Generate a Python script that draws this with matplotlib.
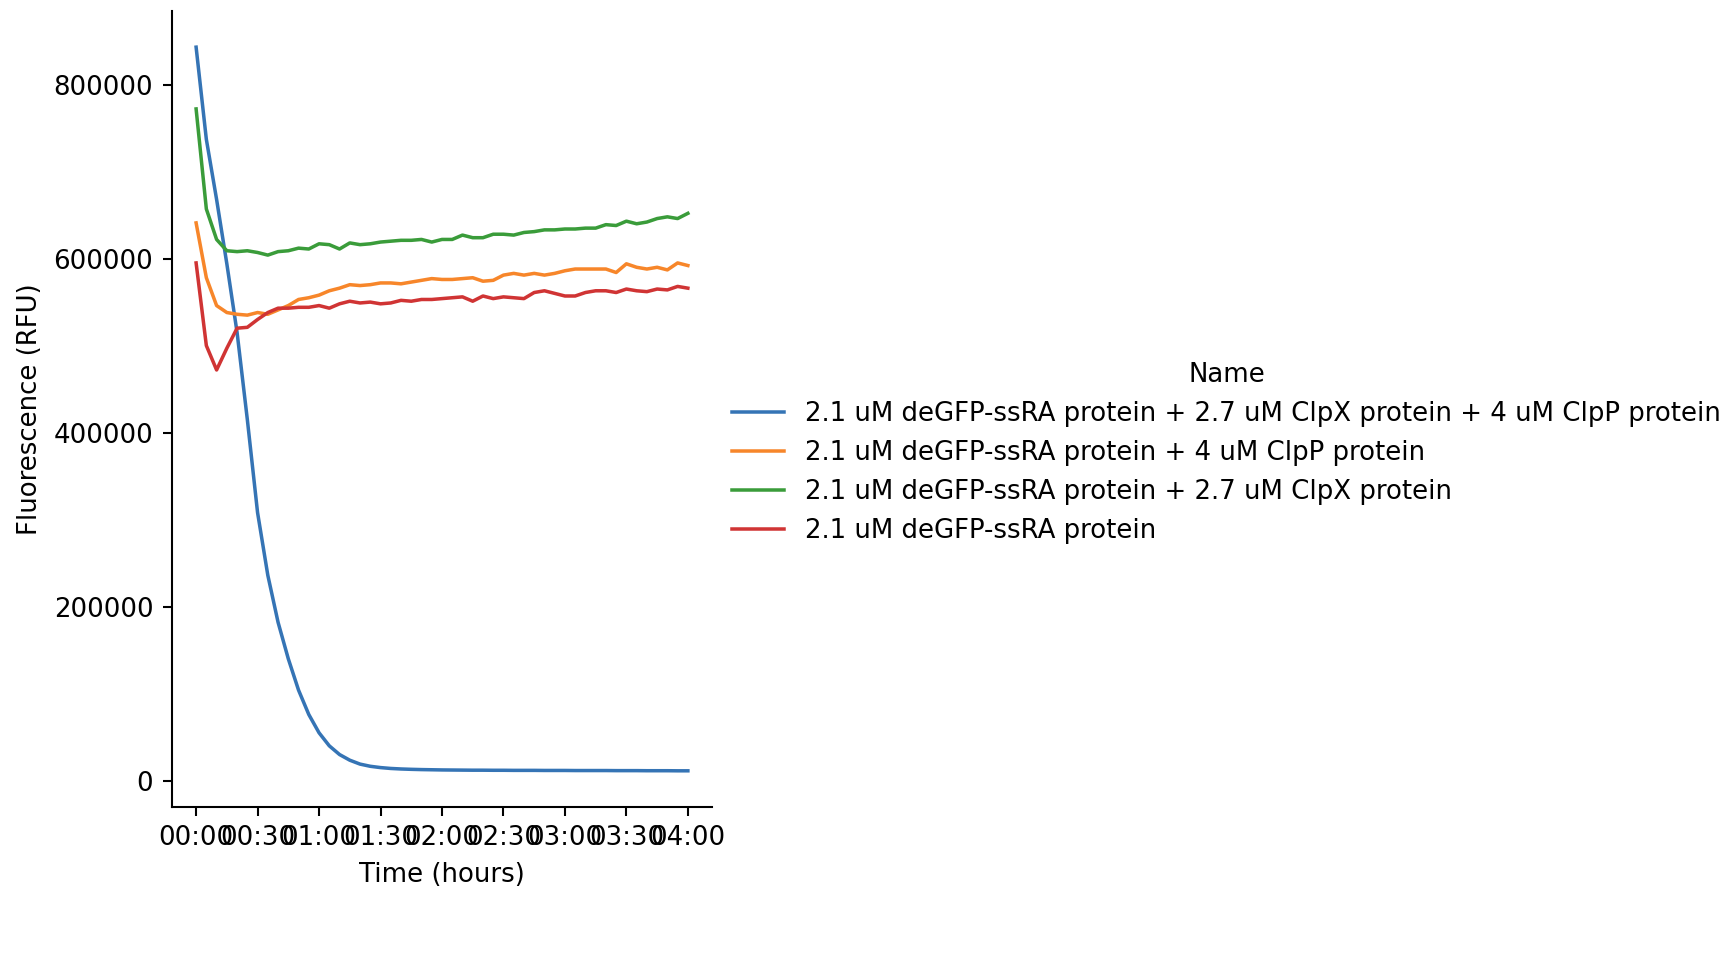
import matplotlib.pyplot as plt

# sampling times (minutes from start)
minutes = [0, 5, 10, 15, 20, 25, 30, 35, 40, 45,
           50, 55, 60, 65, 70, 75, 80, 85, 90, 95,
           100, 105, 110, 115, 120, 125, 130, 135, 140, 145,
           150, 155, 160, 165, 170, 175, 180, 185, 190, 195,
           200, 205, 210, 215, 220, 225, 230, 235, 240]

names = [
    "2.1 uM deGFP-ssRA protein + 2.7 uM ClpX protein + 4 uM ClpP protein",
    "2.1 uM deGFP-ssRA protein + 4 uM ClpP protein",
    "2.1 uM deGFP-ssRA protein + 2.7 uM ClpX protein",
    "2.1 uM deGFP-ssRA protein",
]

xclp_clpp = [843000, 737000, 668000, 594000, 515000, 415000, 308000, 236000, 182000, 140000,
             104000, 76000, 55000, 40000, 30000, 23500, 19000, 16500, 15000, 14000,
             13400, 13000, 12700, 12500, 12300, 12200, 12100, 12000, 12000, 11900,
             11900, 11800, 11800, 11800, 11700, 11700, 11700, 11600, 11600, 11600,
             11600, 11500, 11500, 11500, 11400, 11400, 11400, 11300, 11300]

clpp_only = [641000, 578000, 546000, 538000, 536000, 535000, 538000, 536000, 541000, 546000,
             553000, 555000, 558000, 563000, 566000, 570000, 569000, 570000, 572000, 572000,
             571000, 573000, 575000, 577000, 576000, 576000, 577000, 578000, 574000, 575000,
             581000, 583000, 581000, 583000, 581000, 583000, 586000, 588000, 588000, 588000,
             588000, 584000, 594000, 590000, 588000, 590000, 587000, 595000, 592000]

clpx_only = [772000, 657000, 622000, 609000, 608000, 609000, 607000, 604000, 608000, 609000,
             612000, 611000, 617000, 616000, 611000, 618000, 616000, 617000, 619000, 620000,
             621000, 621000, 622000, 619000, 622000, 622000, 627000, 624000, 624000, 628000,
             628000, 627000, 630000, 631000, 633000, 633000, 634000, 634000, 635000, 635000,
             639000, 638000, 643000, 640000, 642000, 646000, 648000, 646000, 652000]

gfp_only = [595000, 500000, 472000, 497000, 520000, 521000, 530000, 538000, 543000, 543000,
            544000, 544000, 546000, 543000, 548000, 551000, 549000, 550000, 548000, 549000,
            552000, 551000, 553000, 553000, 554000, 555000, 556000, 551000, 557000, 554000,
            556000, 555000, 554000, 561000, 563000, 560000, 557000, 557000, 561000, 563000,
            563000, 561000, 565000, 563000, 562000, 565000, 564000, 568000, 566000]

tick_minutes = [0, 30, 60, 90, 120, 150, 180, 210, 240]
tick_labels = ["00:00", "00:30", "01:00", "01:30", "02:00", "02:30", "03:00", "03:30", "04:00"]

colors = ["#3574b5", "#f7862a", "#3a9c3a", "#d03434"]

DPI = 187
fig = plt.figure(figsize=(1736 / DPI, 954 / DPI), dpi=DPI)
ax = fig.add_axes([0.0988, 0.1541, 0.3116, 0.8344])

for name, vals, c in zip(names, [xclp_clpp, clpp_only, clpx_only, gfp_only], colors):
    ax.plot(minutes, vals, color=c, lw=1.35, label=name)

ax.set_xticks(tick_minutes)
ax.set_xticklabels(tick_labels)
ax.spines["top"].set_visible(False)
ax.spines["right"].set_visible(False)
ax.set_xlabel("Time (hours)")
ax.set_ylabel("Fluorescence (RFU)")

handles, labels = ax.get_legend_handles_labels()
fig.legend(handles, labels, title="Name", loc="center left",
           bbox_to_anchor=(0.4083, 0.5253), frameon=False)

fig.savefig("out.png", dpi=DPI)
